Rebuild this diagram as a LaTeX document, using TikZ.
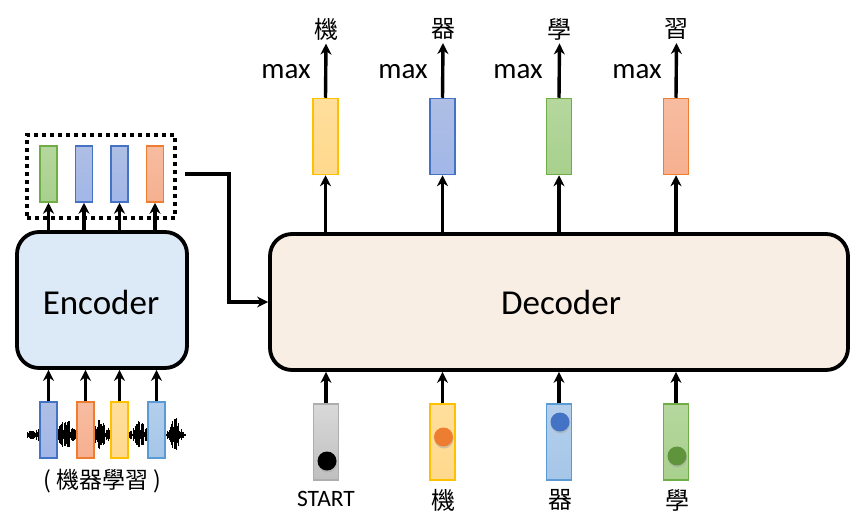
\documentclass[tikz,border=0pt]{standalone}
\usepackage{fontspec}
\usetikzlibrary{arrows.meta}
\setmainfont{Carlito}
\newfontfamily\cjk{Noto Sans CJK TC}
\begin{document}
\begin{tikzpicture}[x=1pt,y=-1pt,
  vec/.style={draw, line width=1.5pt, minimum width=#1, inner sep=0pt},
  arr/.style={-{Stealth[length=11pt,width=11pt]}, line width=3.4pt},
  bigbox/.style={draw, line width=3.8pt, rounded corners=22pt},
  dot/.style={circle, inner sep=0pt, minimum size=#1}
]
\useasboundingbox (0,0) rectangle (864,512);
\definecolor{encfill}{HTML}{DCE9F6}
\definecolor{decfill}{HTML}{F9EEE4}
\definecolor{cyel}{HTML}{FFC000}
\definecolor{cyelf}{HTML}{FFD98C}
\definecolor{cblu}{HTML}{4472C4}
\definecolor{cbluf}{HTML}{9AAEDD}
\definecolor{cgrn}{HTML}{70AD47}
\definecolor{cgrnf}{HTML}{A8D08D}
\definecolor{corg}{HTML}{ED7D31}
\definecolor{corgf}{HTML}{F6B090}
\definecolor{clbl}{HTML}{5B9BD5}
\definecolor{clblf}{HTML}{A6C6E8}
\tikzset{
  yel/.style={draw=cyel, top color=cyelf!85, bottom color=cyelf},
  blu/.style={draw=cblu, top color=cbluf!80, bottom color=cbluf!105!black},
  grn/.style={draw=cgrn, top color=cgrnf!85, bottom color=cgrnf},
  org/.style={draw=corg, top color=corgf!85, bottom color=corgf!100!corg},
  lbl/.style={draw=clbl, top color=clblf!85, bottom color=clblf},
  gry/.style={draw=black!32, top color=black!15, bottom color=black!25},
}

% ---------- waveform ----------
\pgfmathsetseed{7}
\foreach \x in {27,27.5,...,185}{
  \pgfmathsetmacro{\amp}{3 + 5*exp(-((\x-36)/5)^2) + 13*exp(-((\x-66)/8)^2) + 14*exp(-((\x-100)/8)^2) + 12*exp(-((\x-140)/6)^2) + 15*exp(-((\x-175)/5)^2)}
  \pgfmathsetmacro{\h}{\amp*(0.15+0.85*rnd)}
  \draw[line width=0.8pt, black] (\x,435-\h) -- (\x,435+\h*0.9);
}

% ---------- encoder ----------
\node[bigbox, fill=encfill, minimum width=170pt, minimum height=136pt] (enc) at (102,300) {};
\node[font=\fontsize{35}{38}\selectfont] (enctxt) at (101,302) {Encoder};

% encoder inputs
\node[vec=17pt, blu, minimum height=56pt] (i1) at (48.5,430) {};
\node[vec=17pt, org, minimum height=56pt] (i2) at (85.5,430) {};
\node[vec=17pt, yel, minimum height=56pt] (i3) at (119.5,430) {};
\node[vec=17pt, lbl, minimum height=56pt] (i4) at (156.5,430) {};
\foreach \i in {1,...,4}{ \draw[arr] (i\i.north) -- (i\i.north |- enc.south); }

\node[font=\cjk\fontsize{23}{26}\selectfont] (inlab) at (102,481) {( 機器學習 )};

% encoder outputs
\node[vec=17pt, grn, minimum height=56pt] (o1) at (48.5,174) {};
\node[vec=17pt, blu, minimum height=56pt] (o2) at (84,174) {};
\node[vec=17pt, blu, minimum height=56pt] (o3) at (119.5,174) {};
\node[vec=17pt, org, minimum height=56pt] (o4) at (155,174) {};
\foreach \i in {1,...,4}{ \draw[arr] (o\i.south |- enc.north) -- (o\i.south); }

\node[draw, line width=4pt, dash pattern=on 4pt off 4pt, minimum width=148pt, minimum height=83pt] (dots) at (101,176.5) {};

% ---------- decoder ----------
\node[bigbox, fill=decfill, minimum width=578pt, minimum height=136pt] (dec) at (559,302) {};
\node[font=\fontsize{35}{38}\selectfont] (dectxt) at (561,302) {Decoder};

% connector encoder -> decoder
\coordinate (c0) at (185,174);
\coordinate (c1) at (229,174);
\draw[arr] (c0) -- (c1) -- (c1 |- dec.west) -- (dec.west);

% decoder outputs
\foreach \n/\x/\s/\ch/\mx in {1/325.5/yel/機/286, 2/442.5/blu/器/403, 3/559/grn/學/518, 4/676/org/習/637}{
  \node[vec=25pt, \s, minimum height=76pt] (d\n) at (\x,136.5) {};
  \draw[arr] (d\n.south |- dec.north) -- (d\n.south);
  \node[font=\cjk\fontsize{24}{26}\selectfont] (w\n) at (\x+0.5,29) {\ch};
  \draw[arr] (d\n.north) -- (w\n.south);
  \node[font=\fontsize{29}{31}\selectfont] (m\n) at (\mx,72) {max};
}

% decoder inputs
\foreach \n/\x/\s/\dy/\dc in {1/326/gry/461/black, 2/442.5/yel/437/corg, 3/559/lbl/422/cblu, 4/676/grn/456/cgrn!85!black}{
  \node[vec=25pt, \s, minimum height=76pt] (e\n) at (\x,442) {};
  \draw[arr] (e\n.north) -- (e\n.north |- dec.south);
  \node[dot=19pt, fill=black!35, opacity=0.5] (sh\n) at (\x+1.5,\dy+2) {};
  \node[dot=19pt, fill=\dc] (p\n) at (\x+1,\dy) {};
}
\node[font=\fontsize{23.5}{25}\selectfont] (l1) at (326,499) {START};
\node[font=\cjk\fontsize{24}{26}\selectfont] (l2) at (443,500) {機};
\node[font=\cjk\fontsize{24}{26}\selectfont] (l3) at (560,500) {器};
\node[font=\cjk\fontsize{24}{26}\selectfont] (l4) at (677,500) {學};
\end{tikzpicture}
\end{document}
